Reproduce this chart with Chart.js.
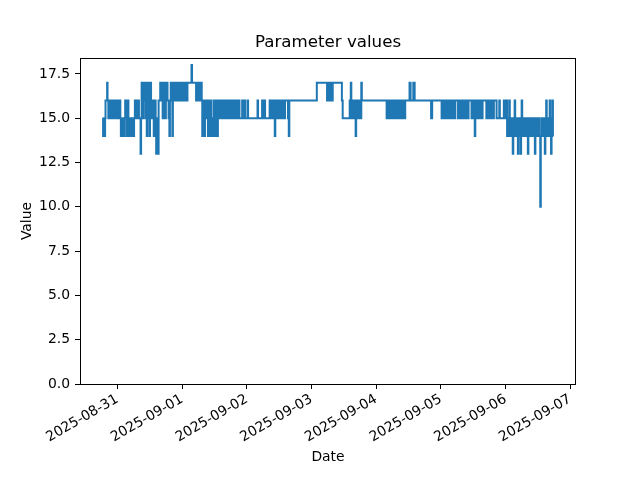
<!DOCTYPE html>
<html><head><meta charset="utf-8">
<script src="https://cdn.jsdelivr.net/npm/chart.js@4/dist/chart.umd.min.js"></script>
<style>html,body{margin:0;padding:0;background:#fff}canvas{display:block}</style>
</head><body>
<canvas id="c" width="640" height="480"></canvas>
<script>
// Tick labels (one per day, at midnight)
const dateLabels = ['2025-08-31','2025-09-01','2025-09-02','2025-09-03','2025-09-04','2025-09-05','2025-09-06','2025-09-07'];
const tickHours = [24, 48, 72, 96, 120, 144, 168, 192]; // hours since 2025-08-30 00:00
const yTicks = [0, 2.5, 5, 7.5, 10, 12.5, 15, 17.5];

// Change points per day: [hour of day, new value]
const aug30 = [[18.5,15],[18.7,14],[18.95,15],[19.2,14],[19.45,15],[19.6,16],[20.2,17],[20.35,16],[20.65,15],[20.9,16],[21.2,15],[21.4,16],[21.7,15],[21.9,16],[22.2,15],[22.5,16],[22.8,15],[23.0,16],[23.3,15],[23.6,16],[23.9,15]];
const aug31 = [[0.2,16],[0.5,15],[0.8,16],[1.1,15],[1.3,14],[1.6,15],[1.8,14],[2.1,15],[2.3,14],[2.6,15],[2.9,16],[3.2,15],[3.4,14],[3.6,15],[3.8,16],[4.1,15],[4.3,14],[4.5,15],[4.7,14],[5.0,15],[5.3,14],[5.6,15],[5.9,14],[6.2,15],[6.5,16],[6.8,15],[7.1,16],[7.4,15],[7.7,16],[8.0,15],[8.6,13],[8.8,15],[9.0,17],[9.2,15],[9.5,17],[9.8,16],[10.0,17],[10.3,15],[10.5,17],[10.7,15],[10.9,14],[11.1,16],[11.3,17],[11.5,15],[11.7,17],[11.9,14],[12.1,16],[12.3,17],[12.5,15],[12.7,16],[12.9,15],[13.2,16],[13.5,14],[13.7,15],[14.0,16],[14.2,15],[14.4,13],[14.7,15],[15.0,13],[15.3,16],[15.9,17],[16.2,16],[16.5,17],[16.8,15],[17.1,16],[17.4,17],[17.7,15],[18.0,16],[18.3,17],[18.6,16],[19.0,15],[19.3,14],[19.5,16],[19.8,17],[20.1,16],[20.4,14],[20.6,17],[20.9,16],[21.2,17],[21.5,16],[21.8,17],[22.1,16],[22.4,17],[22.7,16],[23.0,17],[23.3,16],[23.6,17],[23.9,16]];
const sep01 = [[0.2,17],[0.5,16],[0.8,17],[1.1,16],[1.4,17],[1.7,16],[2.0,17],[3.5,18],[3.7,17],[5.2,16],[5.5,17],[5.8,16],[6.1,17],[6.4,16],[6.7,17],[7.0,16],[7.2,17],[7.3,16],[7.5,14],[7.8,15],[8.0,16],[8.2,14],[8.5,16],[8.8,15],[9.0,16],[9.3,15],[9.6,14],[9.9,16],[10.2,15],[10.4,14],[10.7,16],[10.9,14],[11.2,15],[11.5,14],[11.8,16],[12.1,14],[12.4,15],[12.7,16],[13.0,14],[13.3,15],[13.6,16],[13.8,15],[14.3,16],[14.5,15],[15.0,16],[15.2,15],[15.7,16],[15.9,15],[16.4,16],[16.6,15],[17.1,16],[17.3,15],[17.9,16],[18.1,15],[18.7,16],[18.9,15],[19.5,16],[19.7,15],[20.4,16],[20.6,15],[21.1,16],[21.3,15],[22.3,16],[22.5,15],[23.2,16],[23.4,15]];
const sep02 = [[0.3,16],[0.5,15],[4.0,16],[4.2,15],[5.7,16],[5.9,15],[6.6,16],[6.8,15],[8.5,16],[8.7,15],[8.9,16],[9.1,15],[9.7,16],[9.9,15],[10.4,14],[10.6,16],[10.8,15],[11.0,16],[11.2,15],[11.5,16],[11.7,15],[12.0,16],[12.2,15],[12.5,16],[12.7,15],[13.0,16],[13.2,15],[13.5,16],[14.0,15],[14.2,16],[15.3,15],[15.6,14],[15.8,16]];
const sep03 = [[2.0,17],[5.8,16],[6.1,17],[6.5,16],[6.7,17],[7.2,16],[7.4,17],[7.7,16],[7.9,17],[11.3,16],[11.6,15],[14.2,16],[14.6,17],[14.8,15],[15.1,16],[15.3,15],[15.6,16],[15.9,15],[16.4,14],[16.6,16],[16.9,15],[17.2,16],[17.5,15],[17.8,16],[18.1,15],[18.5,17],[18.7,16]];
const sep04 = [[3.9,15],[4.2,16],[4.5,15],[4.8,16],[5.1,15],[5.4,16],[5.7,15],[6.0,16],[6.3,15],[6.6,16],[6.9,15],[7.2,16],[7.5,15],[7.8,16],[8.1,15],[8.4,16],[8.7,15],[9.0,16],[9.3,15],[9.6,16],[9.9,15],[10.2,16],[10.5,15],[10.8,16],[12.4,17],[12.8,16],[13.8,17],[14.3,16],[20.4,15],[20.8,16]];
const sep05 = [[0.3,15],[0.6,16],[0.9,15],[1.2,16],[1.5,15],[1.8,16],[2.1,15],[2.4,16],[2.7,15],[3.0,16],[3.3,15],[3.6,16],[3.9,15],[4.2,16],[4.5,15],[4.8,16],[5.1,15],[5.4,16],[6.4,15],[6.7,16],[7.0,15],[7.3,16],[7.6,15],[7.9,16],[8.2,15],[8.5,16],[8.8,15],[9.1,16],[9.4,15],[9.7,16],[10.0,15],[10.3,16],[11.4,15],[11.7,16],[12.0,15],[12.3,16],[12.6,14],[12.8,15],[13.1,16],[13.4,15],[13.7,16],[14.0,15],[14.3,16],[14.6,15],[14.9,16],[15.2,15],[15.5,16],[16.9,15],[17.2,16],[17.5,15],[17.8,16],[18.1,15],[18.4,16],[18.7,15],[19.0,16],[19.3,15],[19.7,16],[20.7,15],[21.7,16],[21.9,15],[23.4,16],[23.7,15]];
const sep06 = [[0.4,16],[0.6,14],[0.9,15],[1.1,14],[1.4,16],[1.6,14],[1.9,15],[2.1,14],[2.4,15],[2.7,13],[2.9,14],[3.2,15],[3.4,16],[3.6,14],[3.9,15],[4.1,14],[4.4,15],[4.6,13],[4.8,14],[5.1,15],[5.3,14],[5.6,13],[5.8,15],[6.0,16],[6.2,14],[6.5,15],[6.8,14],[7.1,15],[7.4,14],[7.7,15],[8.0,14],[8.3,13],[8.5,15],[8.8,14],[9.1,15],[9.4,14],[9.7,15],[10.0,14],[10.3,15],[10.6,14],[10.9,13],[11.1,15],[11.4,14],[11.7,15],[12.0,14],[12.3,15],[12.6,14],[12.9,10],[13.1,14],[13.4,15],[13.7,14],[14.0,15],[14.3,14],[14.6,13],[14.8,15],[15.1,16],[15.3,14],[15.6,15],[15.9,14],[16.2,15],[16.4,16],[16.6,14],[16.9,13],[17.1,15],[17.4,16],[17.6,14],[17.8,14]];

const days = [aug30, aug31, sep01, sep02, sep03, sep04, sep05, sep06];
const points = [];
days.forEach((arr, i) => arr.forEach(([h, v]) => points.push({x: i * 24 + h, y: v})));
const tStart = points[0].x, tEnd = points[points.length - 1].x;
const pad = 0.05 * (tEnd - tStart);

const FONT = 'DejaVu Sans';
const frame = {
  id: 'frame',
  afterDraw(chart) {
    const a = chart.chartArea, c = chart.ctx;
    c.save();
    c.strokeStyle = '#000';
    c.lineWidth = 1;
    c.strokeRect(Math.round(a.left) + 0.5, Math.round(a.top) + 0.5, Math.round(a.right - a.left) - 1, Math.round(a.bottom - a.top));
    c.restore();
  }
};

new Chart(document.getElementById('c'), {
  type: 'line',
  data: { datasets: [{ data: points, borderColor: '#1f77b4', borderWidth: 2, pointRadius: 0, stepped: true, fill: false }] },
  options: {
    responsive: false, animation: false, devicePixelRatio: 1,
    layout: { padding: { left: 16, right: 0, top: 0, bottom: 0 } },
    plugins: {
      legend: { display: false }, tooltip: { enabled: false },
      title: { display: true, text: 'Parameter values', color: '#000', font: { family: FONT, size: 16.67, weight: 'normal' }, padding: { top: 33, bottom: 5 } }
    },
    scales: {
      x: {
        type: 'linear', min: tStart - pad, max: tEnd + pad,
        afterFit: s => { s.height = 96; },
        afterBuildTicks: s => { s.ticks = tickHours.map(v => ({ value: v })); },
        ticks: { callback: (v, i) => dateLabels[i], minRotation: 30, maxRotation: 30, autoSkip: false, color: '#000', font: { family: FONT, size: 13.9 }, padding: 2 },
        grid: { display: true, drawOnChartArea: false, drawTicks: true, tickLength: 5, color: '#000', lineWidth: 1 },
        border: { display: false },
        title: { display: true, text: 'Date', color: '#000', font: { family: FONT, size: 13.9 }, padding: { top: 0, bottom: 14.7 } }
      },
      y: {
        min: 0, max: 18.4,
        afterFit: s => { s.width = 64; },
        afterBuildTicks: s => { s.ticks = yTicks.map(v => ({ value: v })); },
        ticks: { callback: v => v.toFixed(1), color: '#000', font: { family: FONT, size: 13.9 }, padding: 5 },
        grid: { display: true, drawOnChartArea: false, drawTicks: true, tickLength: 5, color: '#000', lineWidth: 1 },
        border: { display: false },
        title: { display: true, text: 'Value', color: '#000', font: { family: FONT, size: 13.9 }, padding: { top: 2.7, bottom: 0 } }
      },
      spacer: {
        type: 'linear', position: 'right', display: true,
        afterFit: s => { s.width = 64; },
        ticks: { display: false }, grid: { display: false }, border: { display: false }, title: { display: false }
      }
    }
  },
  plugins: [frame]
});
</script>
</body></html>
